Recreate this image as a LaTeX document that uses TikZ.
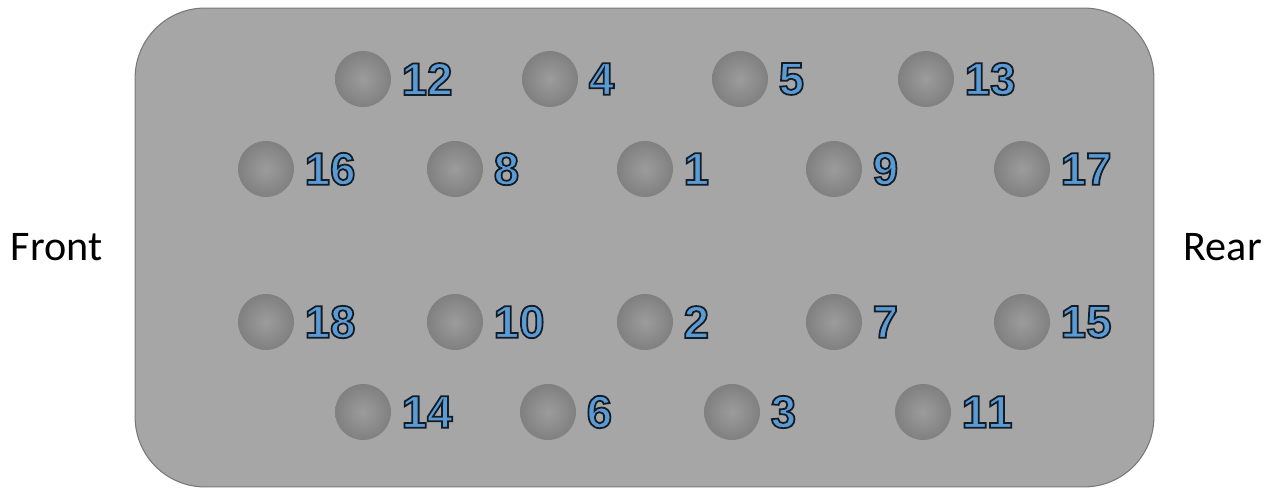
\documentclass[tikz,border=0pt]{standalone}
\usepackage{fontspec}
\setmainfont{Carlito}
\newfontfamily\pinfont{Liberation Sans}[Kerning=Off]
\usepackage{xcolor}
\usetikzlibrary{positioning}

\definecolor{bodygray}{RGB}{166,166,166}
\definecolor{edgegray}{RGB}{120,120,120}
\definecolor{pinlight}{RGB}{156,156,156}
\definecolor{pindark}{RGB}{128,128,128}
\definecolor{numblue}{RGB}{91,155,213}
% outlined digits: fill in blue, stroke in dark slate
\newcommand{\pinnum}[1]{\textcolor{numblue}{%
  \special{pdf:literal direct 2 Tr 1 w 0.08 0.11 0.15 RG}#1%
  \special{pdf:literal direct 0 Tr 0.4 w}}}

\begin{document}
\begin{tikzpicture}[
    x=0.02cm, y=-0.02cm,
    body/.style={draw=edgegray, fill=bodygray, line width=0.6pt,
                 rounded corners=1.4cm, minimum width=20.38cm,
                 minimum height=9.58cm, inner sep=0pt},
    pin/.style={circle, minimum size=1.12cm, inner sep=0pt,
                inner color=pinlight, outer color=pindark},
    num/.style={font=\pinfont\bfseries\fontsize{26}{26}\selectfont,
                inner sep=0pt},
    side/.style={font=\fontsize{24}{24}\selectfont, inner sep=0pt}
  ]
  \useasboundingbox (0,0) rectangle (1273,489);
  \node[body] (body) at (644.5,247.5) {};
  \node[side, left=0.64cm of body]  (front) {Front};
  \node[side, right=0.58cm of body] (rear)  {Rear};
  % pins, row by row
  \foreach \n/\x/\y in {12/363/79, 4/550/79, 5/740/79, 13/926/79,
      16/266/169, 8/455/169, 1/645/169, 9/834/169, 17/1022/169,
      18/266/322, 10/455/322, 2/645/322, 7/834/322, 15/1022/322,
      14/363/412, 6/548/412, 3/732/412, 11/923/412} {
    \node[pin] (p\n) at (\x,\y) {};
    \node[num, right=0.2cm of p\n] (l\n) {\pinnum{\n}};
  }
\end{tikzpicture}
\end{document}
